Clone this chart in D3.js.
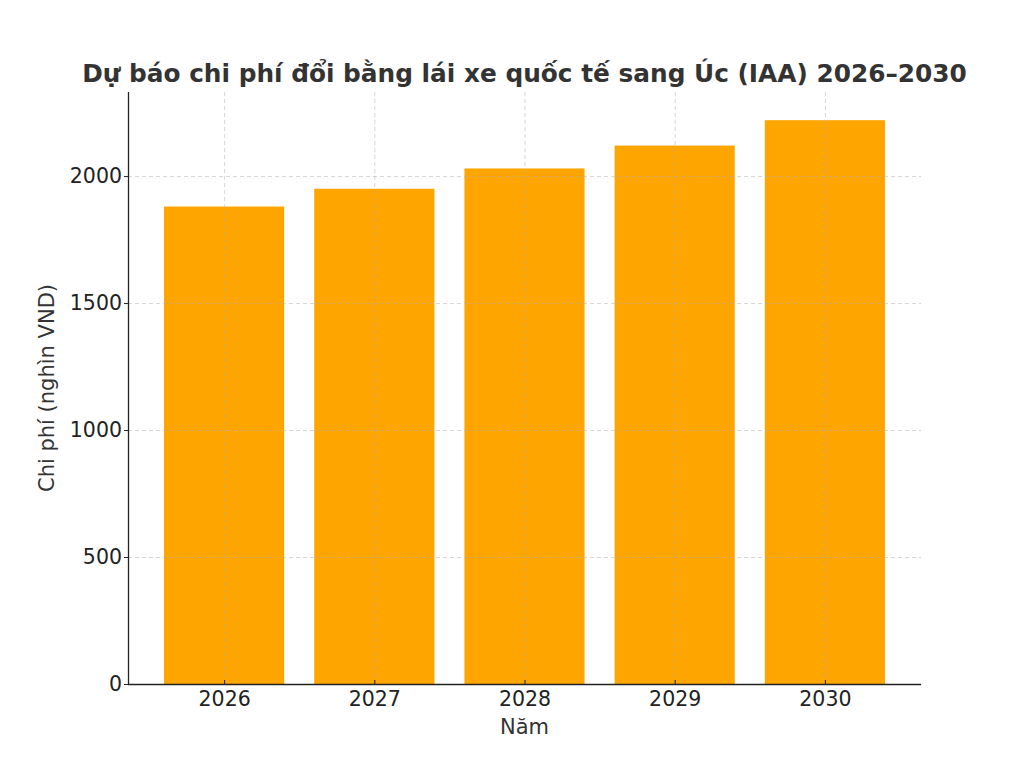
<!DOCTYPE html>
<meta charset="utf-8">
<style>
    body { margin: 0; background: #fff; }
    text { font-family: "DejaVu Sans", sans-serif; }
    .grid line { stroke: #b0b0b0; stroke-dasharray: 4,3; stroke-opacity: 0.65; stroke-width: 0.8; }
    .grid path { display: none; }
    .axis path, .axis line { stroke: #222; }
    .axis text { fill: #222; font-size: 20.5px; }
</style>
<svg width="1024" height="768"></svg>
<script src="https://d3js.org/d3.v7.min.js"></script>
<script>

    var years = ["2026", "2027", "2028", "2029", "2030"];
    var costs = [1880, 1950, 2030, 2120, 2220];
    var yTicks = [0, 500, 1000, 1500, 2000];

    var svg = d3.select("svg"),
        margin = {top: 92, right: 103, bottom: 84, left: 128},
        width = +svg.attr("width") - margin.left - margin.right,
        height = +svg.attr("height") - margin.top - margin.bottom;

    // matplotlib-like: bars 0.8 wide, 5% margin on each side
    var x = d3.scaleLinear().domain([-0.64, years.length - 1 + 0.64]).range([0, width]),
        y = d3.scaleLinear().domain([0, d3.max(costs) * 1.05]).range([height, 0]);
    var barW = x(0.8) - x(0);

    var g = svg.append("g")
        .attr("transform", "translate(" + margin.left + "," + margin.top + ")");

    g.selectAll(".bar")
        .data(costs)
        .enter().append("rect")
        .attr("class", "bar")
        .attr("fill", "#FFA500")
        .attr("x", function(d, i) { return x(i) - barW / 2; })
        .attr("y", function(d) { return y(d); })
        .attr("width", barW)
        .attr("height", function(d) { return height - y(d); });

    // grid on top of bars
    g.append("g")
        .attr("class", "grid")
        .call(d3.axisLeft(y).tickValues(yTicks).tickSize(-width).tickFormat(""));
    g.append("g")
        .attr("class", "grid")
        .attr("transform", "translate(0," + height + ")")
        .call(d3.axisBottom(x).tickValues(d3.range(years.length)).tickSize(height).tickFormat(""))
        .selectAll("line").attr("y2", -height);

    var xAxis = g.append("g")
        .attr("class", "axis")
        .attr("transform", "translate(0," + height + ")")
        .call(d3.axisBottom(x).tickValues(d3.range(years.length))
            .tickFormat(function(i) { return years[i]; }).tickSizeInner(-4).tickSizeOuter(0).tickPadding(7));
    xAxis.select("path").attr("d", "M0,0.5H" + width).attr("stroke-width", 1.3);

    var yAxis = g.append("g")
        .attr("class", "axis")
        .call(d3.axisLeft(y).tickValues(yTicks).tickFormat(d3.format("d"))
            .tickSizeInner(4).tickSizeOuter(0).tickPadding(2));
    yAxis.select("path").attr("d", "M0.5," + height + "V0").attr("stroke-width", 1.3);

    svg.append("text")
        .attr("x", margin.left + width / 2)
        .attr("y", 82)
        .attr("text-anchor", "middle")
        .attr("font-size", "24.8px")
        .attr("font-weight", "bold")
        .attr("fill", "#333")
        .text("Dự báo chi phí đổi bằng lái xe quốc tế sang Úc (IAA) 2026–2030");

    svg.append("text")
        .attr("x", margin.left + width / 2)
        .attr("y", 734)
        .attr("text-anchor", "middle")
        .attr("font-size", "21px")
        .attr("fill", "#333")
        .text("Năm");

    svg.append("text")
        .attr("transform", "translate(47," + (margin.top + height / 2) + ") rotate(-90)")
        .attr("text-anchor", "middle")
        .attr("dy", "0.35em")
        .attr("font-size", "21px")
        .attr("fill", "#333")
        .text("Chi phí (nghìn VND)");

</script>
